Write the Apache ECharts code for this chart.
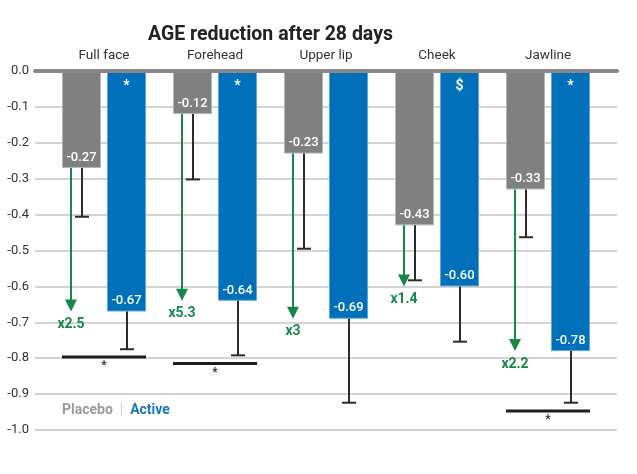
<!DOCTYPE html>
<html><head><meta charset="utf-8">
<script src="https://cdn.jsdelivr.net/npm/echarts@6/dist/echarts.min.js"></script>
<style>html,body{margin:0;padding:0;background:#fff}#c{width:637px;height:474px}</style>
</head><body><div id="c"></div>
<script>
const categories = ['Full face', 'Forehead', 'Upper lip', 'Cheek', 'Jawline'];
const placebo = [-0.27, -0.12, -0.23, -0.43, -0.33];
const active = [-0.67, -0.64, -0.69, -0.60, -0.78];
const placeboErrEnd = [-0.406, -0.302, -0.495, -0.583, -0.463];
const activeErrEnd = [-0.775, -0.792, -0.924, -0.754, -0.924];
const foldLabels = ['x2.5', 'x5.3', 'x3', 'x1.4', 'x2.2'];
const activeMarks = ['*', '*', '', '$', '*'];
const sigLines = [[0, -0.797], [1, -0.815], [4, -0.947]];
const yMin = -1.0, yMax = 0.0, yStep = 0.1;

const FONT = 'Roboto';
const GRAY = '#808080', BLUE = '#0070bb', GREEN = '#16874a', DARK = '#2b2b2b';
const BAR_W = 39, BAR_GAP = 6;
const OFF = (BAR_W + BAR_GAP) / 2;

const chart = echarts.init(document.getElementById('c'), null, {renderer: 'canvas'});

function errRender(offset) {
  return function (params, api) {
    const c = api.value(0);
    const p0 = api.coord([c, api.value(1)]);
    const p1 = api.coord([c, api.value(2)]);
    const x = Math.round(p0[0] + offset);
    return {type: 'group', children: [
      {type: 'line', shape: {x1: x, y1: p0[1], x2: x, y2: p1[1]}, style: {stroke: DARK, lineWidth: 2}},
      {type: 'line', shape: {x1: x - 7, y1: p1[1], x2: x + 7, y2: p1[1]}, style: {stroke: DARK, lineWidth: 2}}
    ]};
  };
}

function arrowRender(params, api) {
  const c = api.value(0);
  const p0 = api.coord([c, api.value(1)]);
  const p1 = api.coord([c, api.value(2)]);
  const x = Math.round(p0[0] - OFF - 10.5);
  const headH = 12, headW = 6;
  return {type: 'group', children: [
    {type: 'line', shape: {x1: x, y1: p0[1], x2: x, y2: p1[1] - headH + 1}, style: {stroke: GREEN, lineWidth: 2}},
    {type: 'polygon', shape: {points: [[x - headW, p1[1] - headH], [x + headW, p1[1] - headH], [x, p1[1]]]}, style: {fill: GREEN}},
    {type: 'text', x: x, y: p1[1] + 13, style: {text: foldLabels[params.dataIndex], fill: GREEN, font: 'bold 14px ' + FONT, align: 'center', verticalAlign: 'middle'}}
  ]};
}

function sigRender(params, api) {
  const c = api.value(0);
  const p = api.coord([c, api.value(1)]);
  const half = OFF + BAR_W / 2;
  return {type: 'group', children: [
    {type: 'line', shape: {x1: p[0] - half, y1: p[1], x2: p[0] + half, y2: p[1]}, style: {stroke: '#1e1e1e', lineWidth: 3}},
    {type: 'text', x: p[0], y: p[1] + 9, style: {text: '*', fill: '#333', font: 'bold 12px ' + FONT, align: 'center', verticalAlign: 'middle'}}
  ]};
}

function markRender(params, api) {
  const c = api.value(0);
  const p = api.coord([c, 0]);
  return {type: 'text', x: p[0] + OFF, y: p[1] + 15, style: {text: activeMarks[params.dataIndex], fill: '#fff', font: 'bold 14px ' + FONT, align: 'center', verticalAlign: 'middle'}};
}

const option = {
  animation: false,
  backgroundColor: '#fff',
  textStyle: {fontFamily: FONT},
  title: {text: 'AGE reduction after 28 days', left: 143, top: 20,
    textStyle: {fontFamily: FONT, fontSize: 19.5, fontWeight: 'bold', color: '#222'}},
  graphic: [{
    type: 'text', left: 62, top: 403,
    style: {
      text: '{p|Placebo}{s|  |  }{a|Active}',
      rich: {
        p: {fill: '#9a9a9a', font: 'bold 14px ' + FONT},
        s: {fill: '#cccccc', font: '14px ' + FONT},
        a: {fill: '#1a74c2', font: 'bold 14px ' + FONT}
      }
    }
  }],
  grid: [
    {left: 48.5, right: 33.5, top: 71, bottom: 44},
    {left: 35, right: 20, top: 71, bottom: 44}
  ],
  xAxis: [
    {type: 'category', gridIndex: 0, data: categories, position: 'top',
      axisLine: {show: false}, axisTick: {show: false},
      axisLabel: {margin: 8, fontSize: 13.5, color: '#333', fontFamily: FONT}},
    {type: 'value', gridIndex: 1, min: 0, max: 1, position: 'top', z: 10,
      axisLine: {show: true, lineStyle: {color: '#888', width: 4}},
      axisTick: {show: false}, axisLabel: {show: false}, splitLine: {show: false}}
  ],
  yAxis: [
    {type: 'value', gridIndex: 0, min: yMin, max: yMax, interval: yStep,
      axisLine: {show: false}, axisTick: {show: false}, axisLabel: {show: false}, splitLine: {show: false}},
    {type: 'value', gridIndex: 1, min: yMin, max: yMax, interval: yStep,
      axisLine: {show: false}, axisTick: {show: false},
      axisLabel: {margin: 6, fontSize: 13, color: '#333', fontFamily: FONT, formatter: v => v.toFixed(1)},
      splitLine: {show: true, lineStyle: {color: '#c4c4c4', width: 1.5}}}
  ],
  series: [
    {name: 'Placebo', type: 'bar', xAxisIndex: 0, yAxisIndex: 0, data: placebo,
      barWidth: BAR_W, barGap: (BAR_GAP / BAR_W * 100) + '%',
      itemStyle: {color: GRAY, borderColor: '#b5b5b5', borderWidth: 1},
      label: {show: true, position: 'insideBottom', distance: 4, color: '#fff', fontSize: 13, fontWeight: 500, fontFamily: FONT,
        formatter: p => p.value.toFixed(2)}},
    {name: 'Active', type: 'bar', xAxisIndex: 0, yAxisIndex: 0, data: active,
      barWidth: BAR_W, barGap: (BAR_GAP / BAR_W * 100) + '%',
      itemStyle: {color: BLUE, borderColor: '#5fa6e0', borderWidth: 1},
      label: {show: true, position: 'insideBottom', distance: 4, color: '#fff', fontSize: 13, fontWeight: 500, fontFamily: FONT,
        formatter: p => p.value.toFixed(2)}},
    {type: 'custom', xAxisIndex: 0, yAxisIndex: 0, z: 5, renderItem: errRender(-OFF),
      data: placebo.map((v, i) => [i, v, placeboErrEnd[i]])},
    {type: 'custom', xAxisIndex: 0, yAxisIndex: 0, z: 5, renderItem: errRender(OFF),
      data: active.map((v, i) => [i, v, activeErrEnd[i]])},
    {type: 'custom', xAxisIndex: 0, yAxisIndex: 0, z: 6, renderItem: arrowRender,
      data: placebo.map((v, i) => [i, v, active[i]])},
    {type: 'custom', xAxisIndex: 0, yAxisIndex: 0, z: 6, renderItem: sigRender,
      data: sigLines},
    {type: 'custom', xAxisIndex: 0, yAxisIndex: 0, z: 6, renderItem: markRender,
      data: activeMarks.map((m, i) => [i, 0])}
  ]
};
chart.setOption(option);
</script>
</body></html>
